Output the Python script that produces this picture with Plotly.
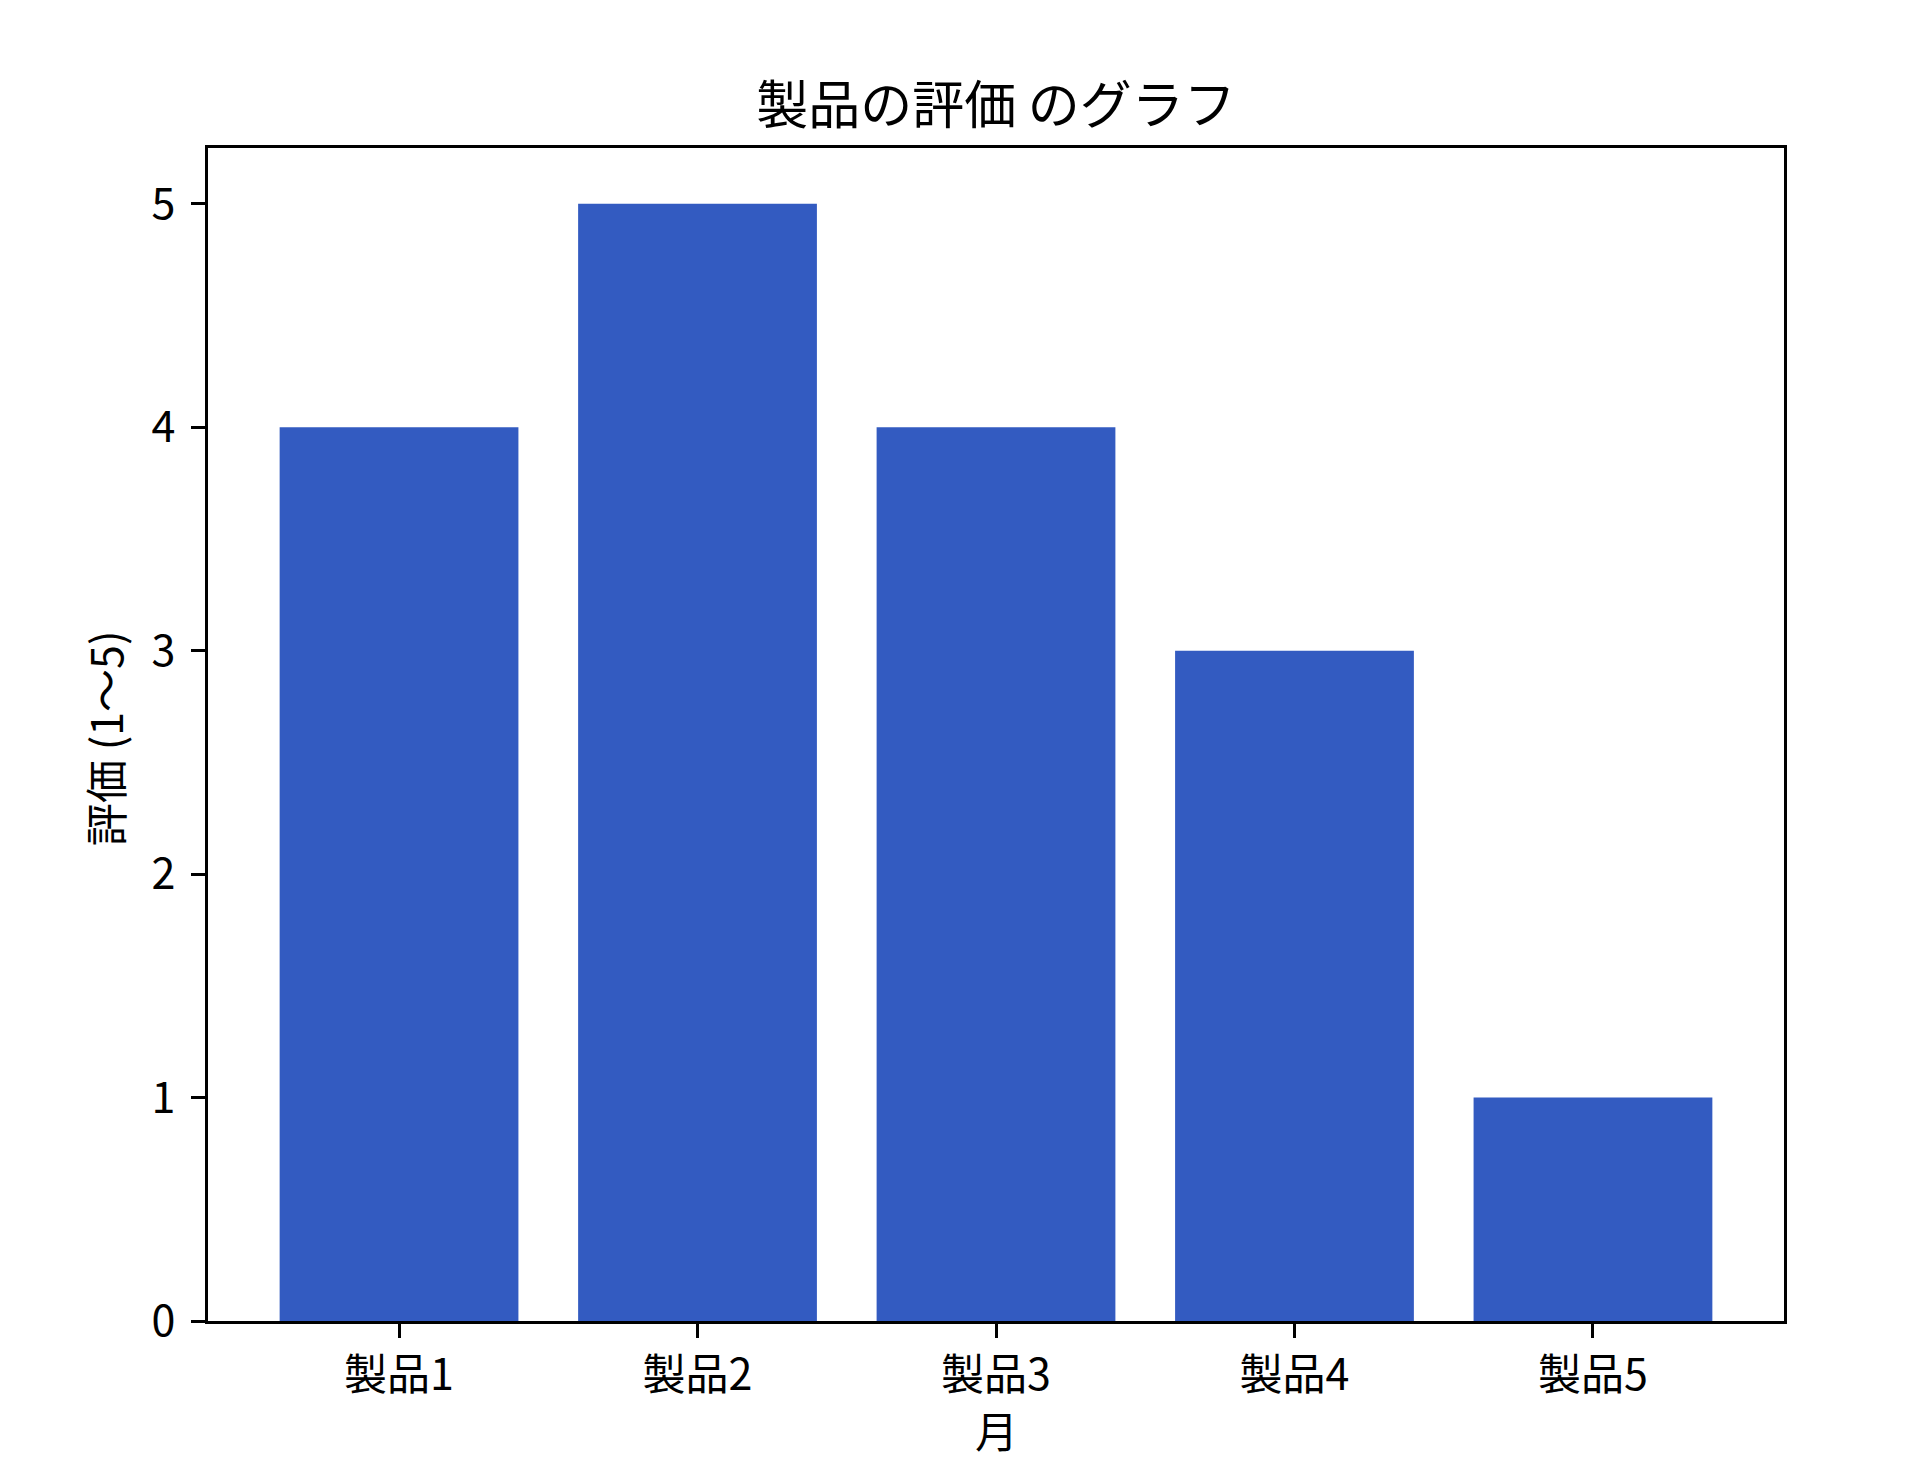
import plotly.graph_objects as go

# data
products = ["製品1", "製品2", "製品3", "製品4", "製品5"]
ratings = [4, 5, 4, 3, 1]
y_ticks = [0, 1, 2, 3, 4, 5]

font_jp = "Noto Sans CJK JP"
bar_color = "#335bc1"

fig = go.Figure(
    go.Bar(
        x=products,
        y=ratings,
        marker=dict(color=bar_color, line=dict(width=0)),
        width=0.8,
    )
)

axis_common = dict(
    showline=True,
    linecolor="black",
    linewidth=3,
    mirror=True,
    ticks="outside",
    ticklen=14,
    tickwidth=3,
    tickcolor="black",
    showgrid=False,
    zeroline=False,
    tickfont=dict(family=font_jp, size=43, color="black"),
)

fig.update_layout(
    width=1906,
    height=1470,
    margin=dict(l=208, r=122, t=148, b=149),
    plot_bgcolor="white",
    paper_bgcolor="white",
    showlegend=False,
    title=dict(
        text="製品の評価 のグラフ",
        x=0.5,
        xref="paper",
        xanchor="center",
        y=1 - 106 / 1470,
        yanchor="middle",
        yref="container",
        font=dict(family=font_jp, size=52, color="black"),
    ),
    xaxis=dict(axis_common, range=[-0.64, 4.64]),
    yaxis=dict(axis_common, range=[0, 5.25], tickvals=y_ticks, ticklabelstandoff=7),
)

# axis titles as annotations so they sit where the reference puts them
fig.add_annotation(
    text="月", x=0.5, y=-0.092, xref="paper", yref="paper",
    xanchor="center", yanchor="middle", showarrow=False,
    font=dict(family=font_jp, size=43, color="black"),
)
fig.add_annotation(
    text="評価 (1〜5)", x=-0.066, y=0.497, xref="paper", yref="paper",
    xanchor="center", yanchor="middle", showarrow=False, textangle=-90,
    font=dict(family=font_jp, size=43, color="black"),
)

# drop the page's default body margin so the figure starts at the corner
fig.write_html(
    "out.html",
    config={"displayModeBar": False},
    post_script="document.body.style.margin='0';",
)
